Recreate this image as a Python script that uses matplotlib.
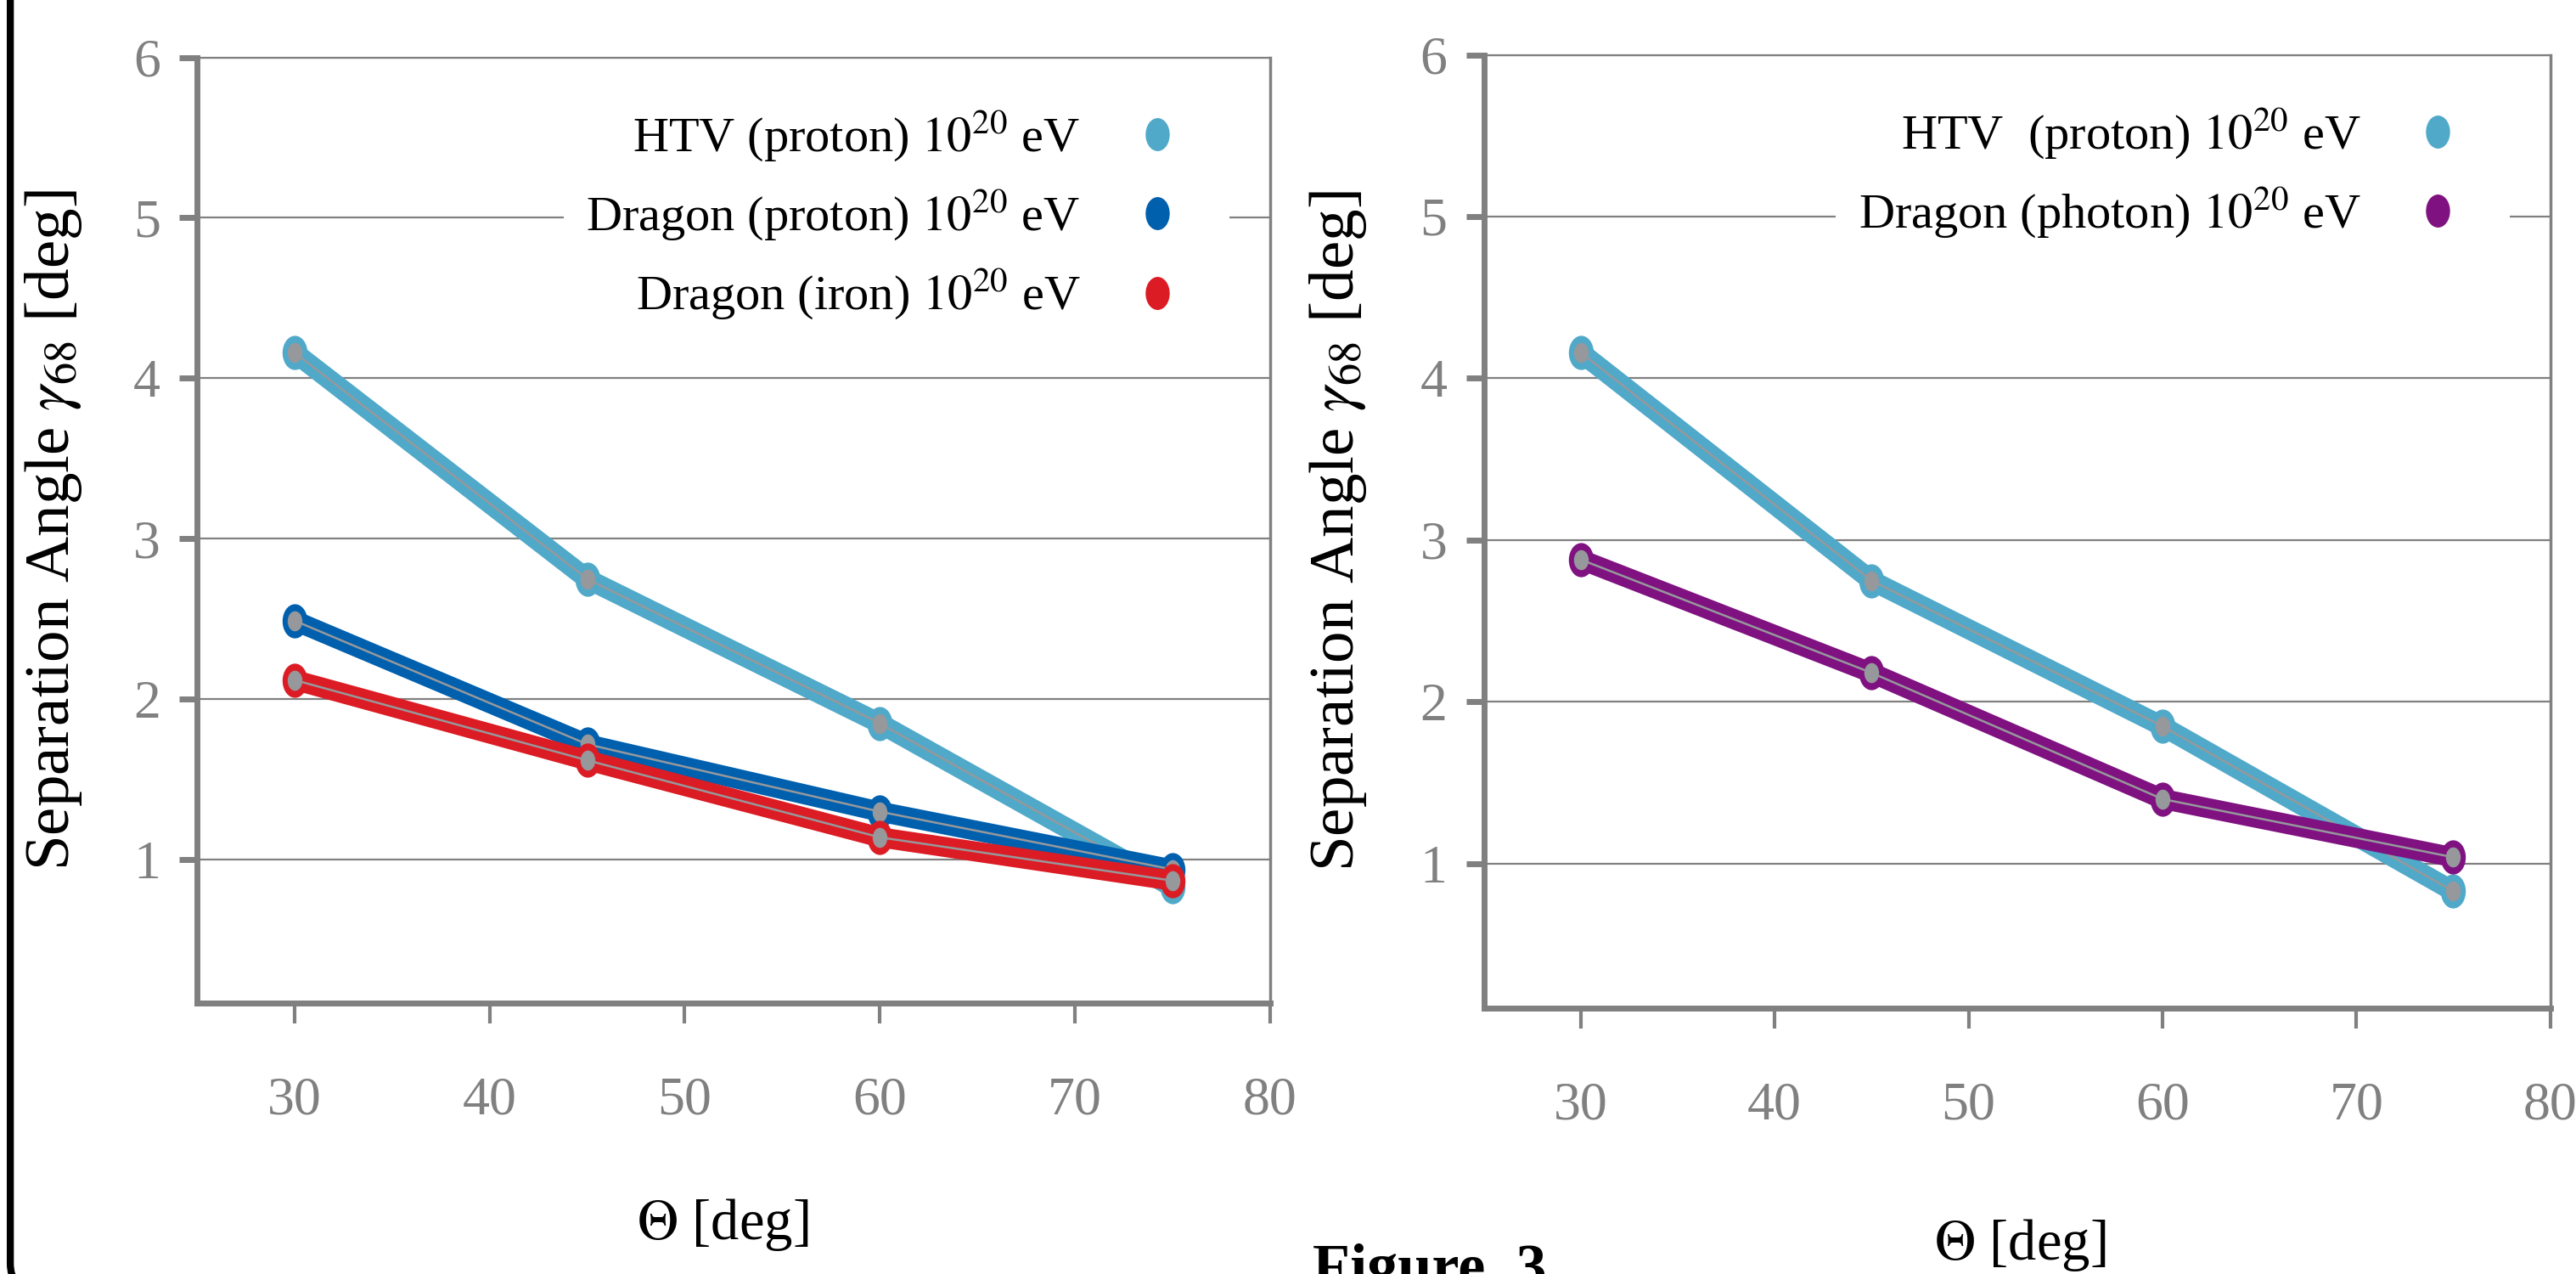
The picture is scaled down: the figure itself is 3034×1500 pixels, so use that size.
import matplotlib
matplotlib.use('Agg')
import matplotlib.pyplot as plt
from matplotlib.path import Path
from matplotlib.lines import Line2D
from matplotlib.patches import FancyBboxPatch

plt.rcParams['font.family'] = ['Liberation Serif', 'DejaVu Serif']
plt.rcParams['mathtext.fontset'] = 'stix'

# data
theta = [30, 45, 60, 75]
htv_proton = [4.16, 2.75, 1.85, 0.83]
dragon_proton = [2.49, 1.72, 1.30, 0.94]
dragon_iron = [2.12, 1.62, 1.14, 0.87]
dragon_photon = [2.88, 2.18, 1.40, 1.04]

xticks = [30, 40, 50, 60, 70, 80]
yticks = [1, 2, 3, 4, 5, 6]

c_htv = '#50A9C9'
c_dproton = '#0060AE'
c_iron = '#DC1C24'
c_photon = '#7F1280'
grey = '#808080'
core = '#96989c'

left_series = [
    ('HTV (proton) $10^{20}$ eV', htv_proton, c_htv),
    ('Dragon (proton) $10^{20}$ eV', dragon_proton, c_dproton),
    ('Dragon (iron) $10^{20}$ eV', dragon_iron, c_iron),
]
right_series = [
    ('HTV  (proton) $10^{20}$ eV', htv_proton, c_htv),
    ('Dragon (photon) $10^{20}$ eV', dragon_photon, c_photon),
]

# tall ellipse marker
circ = Path.unit_circle()
ellipse = Path(circ.vertices * [0.72, 1.0], circ.codes)

fig = plt.figure(figsize=(30.34, 15), dpi=100)
ax1 = fig.add_axes([0.0765, 0.213, 0.4165, 0.742])
ax2 = fig.add_axes([0.576, 0.209, 0.414, 0.748])


def style(ax):
    ax.set_xlim(25, 80)
    ax.set_ylim(0.11, 6)
    ax.set_xticks(xticks)
    ax.set_yticks(yticks)
    ax.grid(axis='y', color=grey, lw=1.6)
    ax.set_axisbelow(True)
    for s in ['left', 'bottom']:
        ax.spines[s].set_linewidth(5)
        ax.spines[s].set_color(grey)
    ax.spines['top'].set_linewidth(1.6)
    ax.spines['top'].set_color(grey)
    ax.spines['right'].set_linewidth(2.5)
    ax.spines['right'].set_color(grey)
    ax.tick_params(axis='y', length=15, width=5, color=grey,
                   labelcolor=grey, labelsize=46, pad=16)
    ax.tick_params(axis='x', length=17, width=3, color=grey,
                   labelcolor=grey, labelsize=46, pad=46)
    ax.set_ylabel(r'Separation Angle $\gamma_{68}$ [deg]', fontsize=54)
    ax.set_xlabel(r'$\Theta$ [deg]', fontsize=48)


def draw(ax, series, anchor):
    handles = []
    for label, vals, col in series:
        ax.plot(theta, vals, color=col, lw=17, marker=ellipse, ms=28,
                mfc=col, mec=col, solid_capstyle='round')
        ax.plot(theta, vals, color=core, lw=1.8, marker=ellipse, ms=16,
                mfc=core, mec=core)
        handles.append(Line2D([], [], ls='none', marker=ellipse, ms=27,
                              color=col, label=label))
    leg = ax.legend(handles=handles, loc='upper right', bbox_to_anchor=anchor,
                    markerfirst=False, fontsize=42, frameon=True,
                    facecolor='white', edgecolor='none', framealpha=1,
                    labelspacing=0.5, handletextpad=0.55, borderpad=0.45)
    return leg


style(ax1)
style(ax2)
draw(ax1, left_series, (0.985, 0.995))
draw(ax2, right_series, (0.985, 0.995))

ax1.yaxis.set_label_coords(-0.105, 0.5)
ax2.yaxis.set_label_coords(-0.108, 0.5)
ax1.xaxis.set_label_coords(0.49, -0.205)
ax2.xaxis.set_label_coords(0.503, -0.22)

fig.text(0.555, 0.024, 'Figure. 3', fontweight='bold', fontsize=52,
         ha='center', va='top')

frame = FancyBboxPatch((0.004, -0.012), 1.2, 1.2,
                       boxstyle='round,pad=0,rounding_size=0.01',
                       mutation_aspect=2.02, transform=fig.transFigure,
                       fill=False, lw=6, ec='black', clip_on=False)
fig.patches.append(frame)

fig.savefig('out.png', dpi=100)
